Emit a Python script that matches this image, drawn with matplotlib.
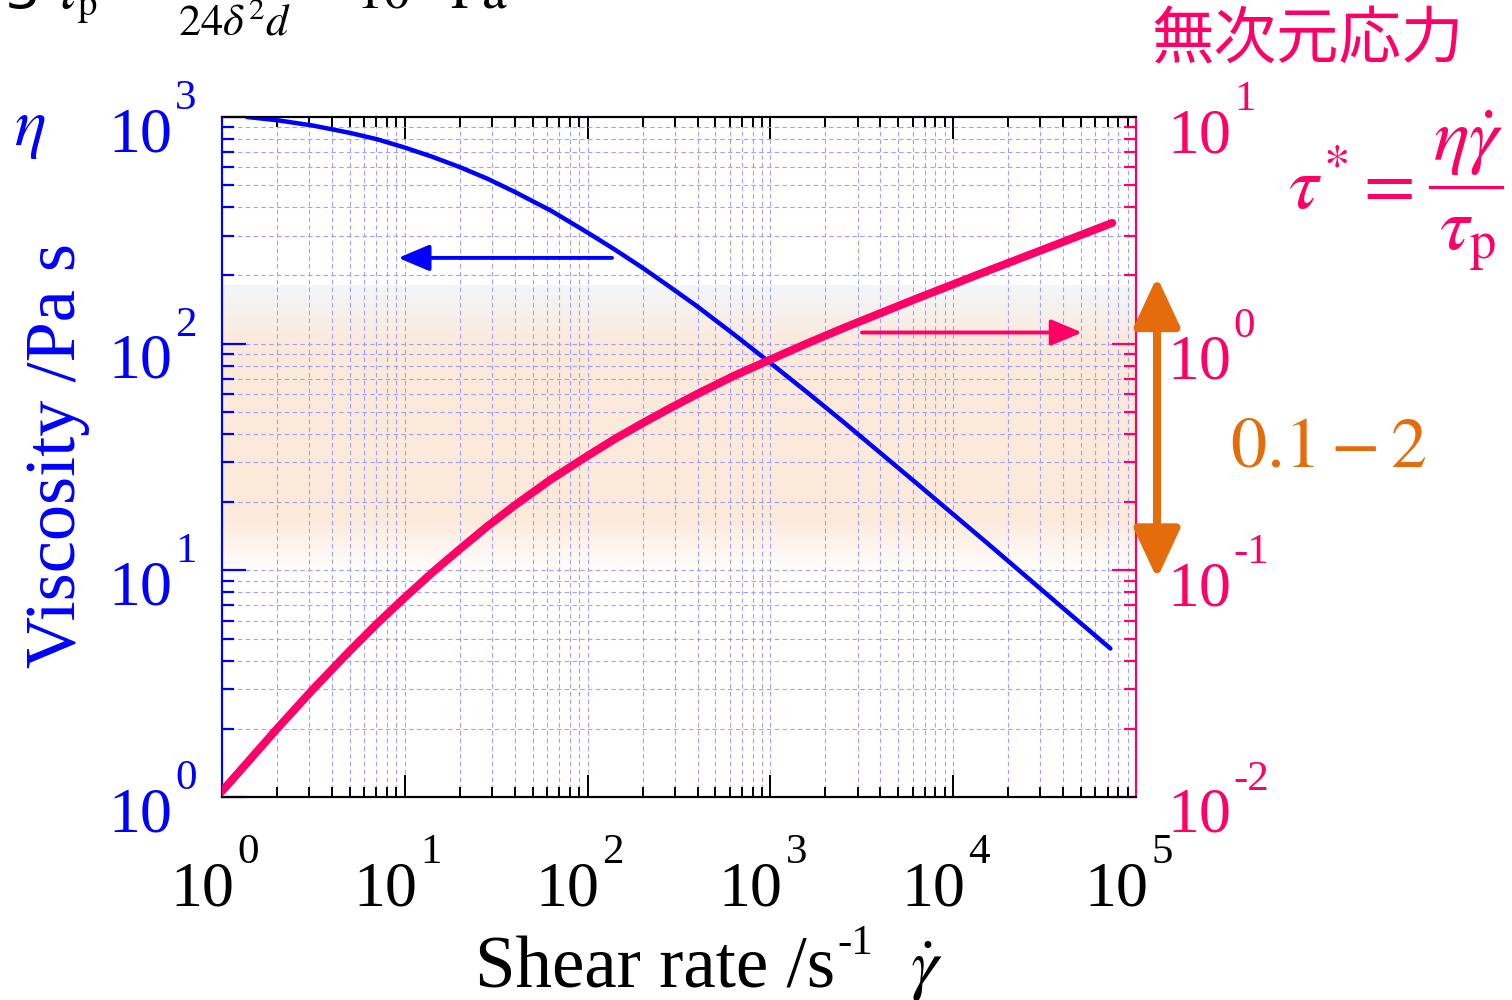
import numpy as np
import matplotlib
matplotlib.use('Agg')
import matplotlib.pyplot as plt
from matplotlib.lines import Line2D

W, H = 1512, 1000
BLUE = '#0000FF'
PINK = '#FF0066'
ORANGE = '#E46C0A'
GRID = '#A0A0FF'
SERIF = 'Liberation Serif'

# viscosity curve (left axis)
shear_eta = [1.37, 2.0, 3.16, 5.01, 7.08, 10, 14.1, 20, 28.2, 39.8, 63.1, 100, 141,
             200, 282, 398, 631, 1000, 1585, 2512, 6310, 15850, 39810, 72440]
eta = [1000, 968, 916, 851, 797, 733, 668, 601, 535, 468, 386, 309, 260,
       216, 178, 146, 110, 82.2, 61.1, 45.1, 24.2, 12.9, 6.82, 4.52]

# dimensionless stress curve (right axis)
shear_tau = [1.0, 2.0, 3.16, 5.01, 7.08, 10, 14.1, 20, 28.2, 39.8, 63.1, 100, 141,
             200, 282, 398, 631, 1000, 1585, 2512, 6310, 15850, 39810, 74130]
tau_star = [0.0106, 0.0200, 0.0300, 0.0442, 0.0584, 0.0759, 0.0976, 0.124, 0.156,
            0.193, 0.252, 0.320, 0.380, 0.446, 0.519, 0.600, 0.721, 0.851, 1.002,
            1.172, 1.581, 2.113, 2.81, 3.41]

band = (0.095, 1.8)            # shaded tau* range
range_arrow = (0.092, 1.97)    # orange double arrow
arrow_eta = (136, 9.2, 239)    # tail x, head x, eta
arrow_tau = (3170, 50700, 1.12)

x_exps = [0, 1, 2, 3, 4, 5]
y_exps = [0, 1, 2, 3]
y2_exps = [-2, -1, 0, 1]

TICK_FS, SUP_FS = 46, 31
SUP_DY = 56


def px(x, y):
    return x / W, 1 - y / H


def pow_label(ax, xy, xycoords, exp, color, ha, dx, dy):
    base = ax.annotate('10', xy=xy, xycoords=xycoords, xytext=(dx, dy),
                       textcoords='offset pixels', ha=ha, va='baseline',
                       fontsize=TICK_FS, color=color, family=SERIF,
                       annotation_clip=False)
    ax.annotate(str(exp), xy=(1, 0), xycoords=base, xytext=(3, SUP_DY),
                textcoords='offset pixels', ha='left', va='baseline',
                fontsize=SUP_FS, color=color, family=SERIF, annotation_clip=False)


fig = plt.figure(figsize=(W / 100, H / 100), dpi=100)
ax = fig.add_axes([222 / W, 1 - 797 / H, 914 / W, 680 / H])
ax2 = ax.twinx()

ax.set_xscale('log')
ax.set_yscale('log')
ax2.set_yscale('log')

# shaded band (gradient) in right-axis units
lo = (np.log10(band[0]) + 2) / 3
hi = (np.log10(band[1]) + 2) / 3
t = np.linspace(0, 1, 300)
top_c = np.array([243, 246, 251]) / 255
peach = np.array([252, 233, 218]) / 255
white = np.array([255, 255, 255]) / 255
rgb = np.zeros((300, 1, 3))
for i, tt in enumerate(t):
    if tt < 0.2:
        f = tt / 0.2
        c = top_c * (1 - f) + peach * f
    elif tt < 0.8:
        c = peach
    else:
        f = (tt - 0.8) / 0.2
        c = peach * (1 - f) + white * f
    rgb[i, 0] = c
ax.imshow(rgb, extent=[0, 1, lo, hi], transform=ax.transAxes, aspect='auto',
          origin='upper', zorder=0, interpolation='bilinear')

ax.plot(shear_eta, eta, color=BLUE, lw=3.2, solid_capstyle='round', zorder=3)
ax2.plot(shear_tau, tau_star, color=PINK, lw=5.8, solid_capstyle='round', zorder=3)

ax.set_xlim(1, 1e5)
ax.set_ylim(1, 1e3)
ax2.set_ylim(1e-2, 1e1)

ax.set_axisbelow(True)
ax.grid(True, which='both', color=GRID, ls=(0, (4, 3)), lw=0.8)

# ticks
ax.tick_params(axis='x', which='both', direction='in', top=True, bottom=True,
               color='black', width=1.4, labelbottom=False)
ax.tick_params(axis='x', which='major', length=16)
ax.tick_params(axis='x', which='minor', length=7.5)
ax.tick_params(axis='y', which='both', direction='in', left=True, right=False,
               color=BLUE, width=1.6, labelleft=False)
ax.tick_params(axis='y', which='major', length=17)
ax.tick_params(axis='y', which='minor', length=8.5)
ax2.tick_params(axis='y', which='both', direction='in', right=True, left=False,
                color=PINK, width=1.6, labelright=False)
ax2.tick_params(axis='y', which='major', length=17)
ax2.tick_params(axis='y', which='minor', length=8.5)
for a in (ax.xaxis, ax.yaxis, ax2.yaxis):
    a.set_minor_locator(matplotlib.ticker.LogLocator(base=10, subs=np.arange(2, 10), numticks=20))

for a in (ax, ax2):
    a.spines['top'].set_color('black')
    a.spines['bottom'].set_color('black')
    a.spines['left'].set_color(BLUE)
    a.spines['right'].set_color(PINK)
    for s in a.spines.values():
        s.set_linewidth(1.5)

# tick labels
for e in x_exps:
    pow_label(ax, (10.0 ** e, 0), ax.get_xaxis_transform(), e, 'black', 'right', 12, -108)
for e in y_exps:
    pow_label(ax, (0, 10.0 ** e), ax.get_yaxis_transform(), e, BLUE, 'right', -50, -34)
for e in y2_exps:
    pow_label(ax2, (1, 10.0 ** e), ax2.get_yaxis_transform(), e, PINK, 'left', 31, -35)

# arrows
ax.annotate('', xy=(arrow_eta[1], arrow_eta[2]), xytext=(arrow_eta[0], arrow_eta[2]),
            arrowprops=dict(arrowstyle='-|>,head_length=19,head_width=8', mutation_scale=1,
                            color=BLUE, lw=2.8, shrinkA=0, shrinkB=0), zorder=4)
ax2.annotate('', xy=(arrow_tau[1], arrow_tau[2]), xytext=(arrow_tau[0], arrow_tau[2]),
             arrowprops=dict(arrowstyle='-|>,head_length=19,head_width=8', mutation_scale=1,
                             color=PINK, lw=2.8, shrinkA=0, shrinkB=0), zorder=4)
xpos = (1157 - 222) / 914
ax2.annotate('', xy=(xpos, range_arrow[1]), xytext=(xpos, range_arrow[0]),
             xycoords=ax2.get_yaxis_transform(), textcoords=ax2.get_yaxis_transform(),
             arrowprops=dict(arrowstyle='<|-|>,head_length=30,head_width=14', mutation_scale=1,
                             color=ORANGE, lw=5.8, shrinkA=0, shrinkB=0),
             annotation_clip=False)

# axis labels
fig.text(*px(58, 456), 'Viscosity /Pa s', rotation=90, ha='center', va='center',
         fontsize=52, color=BLUE, family=SERIF)
fig.text(*px(30, 128), r'$\eta$', ha='center', va='center', fontsize=48,
         color=BLUE, math_fontfamily='stix')
xl = fig.text(*px(475, 988), 'Shear rate /s', ha='left', va='baseline', fontsize=52.5,
              color='black', family=SERIF)
ax.annotate('-1', xy=(1, 0), xycoords=xl, xytext=(2, 50), textcoords='offset pixels',
            ha='left', va='baseline', fontsize=31, color='black', family=SERIF,
            annotation_clip=False)
fig.text(*px(910, 988), r'$\dot{\gamma}$', ha='left', va='baseline', fontsize=50,
         color='black', math_fontfamily='stix')

# right side annotations
fig.text(*px(1308, 40), '無次元応力', ha='center', va='center', fontsize=45,
         color=PINK, family=['Noto Sans CJK JP', 'DejaVu Sans'])
fig.text(*px(1288, 209), r'$\tau^{*}=$', ha='left', va='baseline', fontsize=54,
         color=PINK, math_fontfamily='stix')
fig.text(*px(1468, 161), r'$\eta\dot{\gamma}$', ha='center', va='baseline', fontsize=54,
         color=PINK, math_fontfamily='stix')
fig.text(*px(1468, 249), r'$\tau_{\mathrm{p}}$', ha='center', va='baseline', fontsize=54,
         color=PINK, math_fontfamily='stix')
fig.add_artist(Line2D([1430 / W, 1502 / W], [1 - 187 / H, 1 - 187 / H],
                      transform=fig.transFigure, color=PINK, lw=2.3))
fig.text(*px(1328, 447), r'$0.1-2$', ha='center', va='center', fontsize=52,
         color=ORANGE, math_fontfamily='stix')

# cut-off equation at the top edge
fig.text(*px(5, 8), '3', ha='left', va='baseline', fontsize=40, color='black',
         math_fontfamily='stix')
fig.text(*px(55, 8), r'$\tau_{\mathrm{p}}$', ha='left', va='baseline', fontsize=40,
         color='black', math_fontfamily='stix')
fig.text(*px(235, 22), r'$24\delta^{2}d$', ha='center', va='center', fontsize=32,
         color='black', math_fontfamily='stix')
fig.text(*px(355, 8), r'$10\quad\mathrm{Pa}$', ha='left', va='baseline', fontsize=40,
         color='black', math_fontfamily='stix')

fig.savefig('out.png', dpi=100)
